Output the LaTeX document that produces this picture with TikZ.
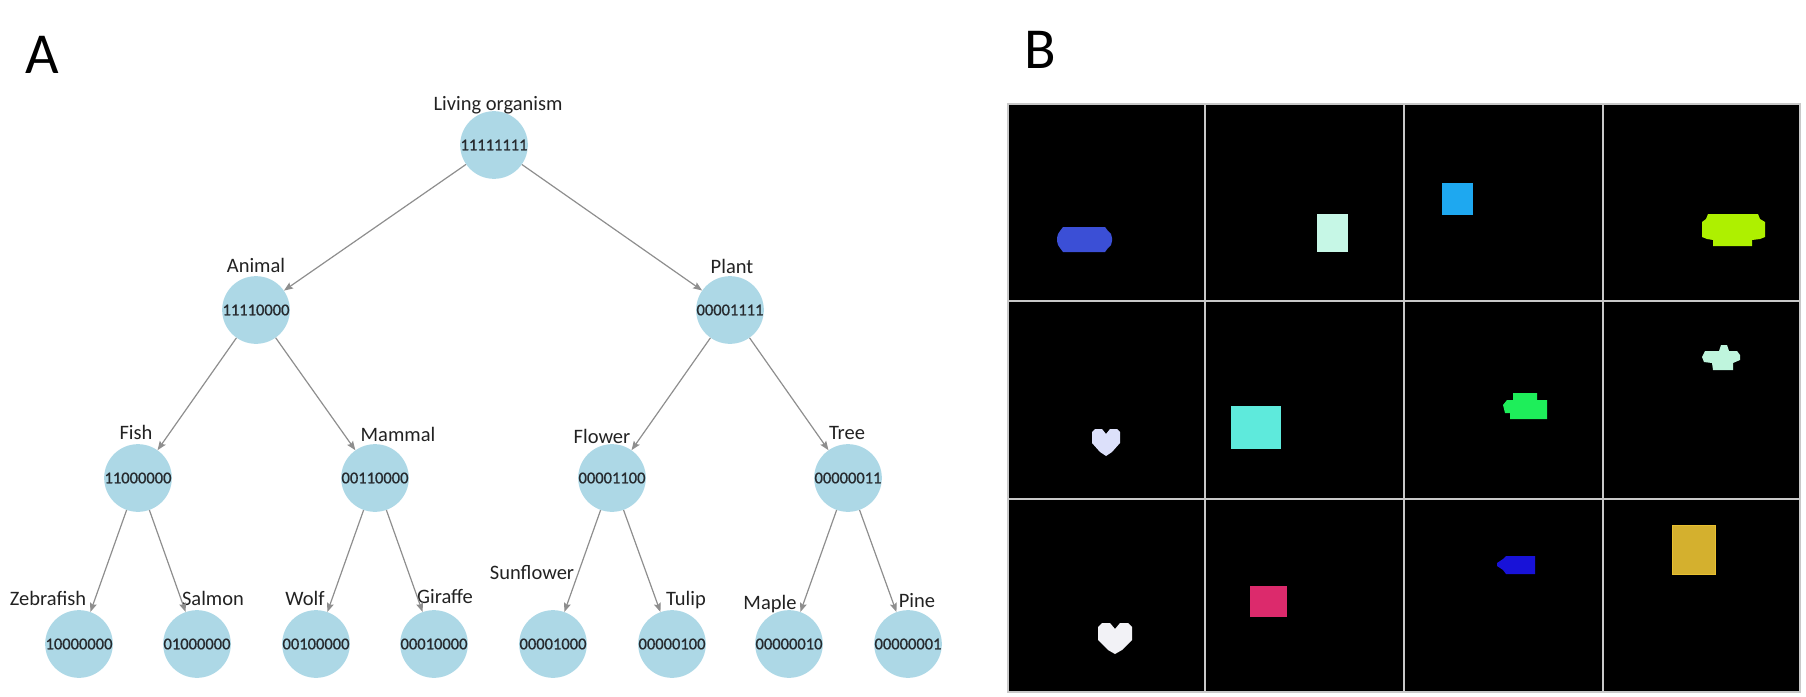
\documentclass[tikz,border=0pt]{standalone}
\usepackage{fontspec}
\setmainfont{Carlito}
\newfontfamily\numfont[FakeBold=0.9]{Carlito}
\usetikzlibrary{arrows.meta}
\definecolor{nodeblue}{HTML}{ADD8E6}
\definecolor{numtxt}{HTML}{262A2E}
\definecolor{lbltxt}{HTML}{222222}
\definecolor{edgegray}{HTML}{8E8E8E}
\definecolor{gridgray}{HTML}{C8C8C8}
\definecolor{shblue}{HTML}{3B4FD6}
\definecolor{shmint}{HTML}{C6F7E6}
\definecolor{shsky}{HTML}{1EA8F0}
\definecolor{shlime}{HTML}{AEF000}
\definecolor{shlav}{HTML}{DCE0FA}
\definecolor{shcyan}{HTML}{5EEADC}
\definecolor{shgreen}{HTML}{1EEE5A}
\definecolor{shmint2}{HTML}{BFF5DD}
\definecolor{shwhite}{HTML}{F2F2F6}
\definecolor{shpink}{HTML}{DC2A6C}
\definecolor{shnavy}{HTML}{1812D8}
\definecolor{shgold}{HTML}{D4B02E}
\definecolor{shgoldedge}{HTML}{E8C030}
\begin{document}
\begin{tikzpicture}[x=1pt,y=-1pt,
  orgnode/.style={circle, fill=nodeblue, minimum size=64pt, inner sep=0pt,
    font=\numfont\fontsize{16.5}{18}\selectfont, text=numtxt},
  lbl/.style={anchor=base, inner sep=0pt, font=\fontsize{20.5}{22}\selectfont, text=lbltxt},
  panel/.style={anchor=base, inner sep=0pt, font=\fontsize{58}{60}\selectfont, text=black},
  arr/.style={draw=edgegray, line width=1.2pt, -{Stealth[length=9pt,width=7pt,inset=1.5pt]}},
  tile/.style={draw=gridgray, line width=1.5pt},
]
\useasboundingbox (0,0) rectangle (1806,696);

% panel letters
\node[panel] (pA) at (42,73) {A};
\node[panel] (pB) at (1040,68) {B};

% tree nodes
\node[orgnode] (root) at (494,145) {11111111};
\node[orgnode] (animal) at (256,310) {11110000};
\node[orgnode] (plant) at (730,310) {00001111};
\node[orgnode] (fish) at (138,478) {11000000};
\node[orgnode] (mammal) at (375,478) {00110000};
\node[orgnode] (flower) at (612,478) {00001100};
\node[orgnode] (tree) at (848,478) {00000011};
\node[orgnode] (zebra) at (79,644) {10000000};
\node[orgnode] (salmon) at (197,644) {01000000};
\node[orgnode] (wolf) at (316,644) {00100000};
\node[orgnode] (giraffe) at (434,644) {00010000};
\node[orgnode] (sunfl) at (553,644) {00001000};
\node[orgnode] (tulip) at (672,644) {00000100};
\node[orgnode] (maple) at (789,644) {00000010};
\node[orgnode] (pine) at (908,644) {00000001};

% labels
\node[lbl] (l-root) at (498,110) {Living organism};
\node[lbl] (l-animal) at (256,272) {Animal};
\node[lbl] (l-plant) at (732,273) {Plant};
\node[lbl] (l-fish) at (136,439) {Fish};
\node[lbl] (l-mammal) at (398,441) {Mammal};
\node[lbl] (l-flower) at (602,443) {Flower};
\node[lbl] (l-tree) at (847,439) {Tree};
\node[lbl] (l-zebra) at (48,605) {Zebrafish};
\node[lbl] (l-salmon) at (213,605) {Salmon};
\node[lbl] (l-wolf) at (305,605) {Wolf};
\node[lbl] (l-giraffe) at (445,603) {Giraffe};
\node[lbl] (l-sunfl) at (532,579) {Sunflower};
\node[lbl] (l-tulip) at (686,605) {Tulip};
\node[lbl] (l-maple) at (770,609) {Maple};
\node[lbl] (l-pine) at (917,607) {Pine};

% connectors
\draw[arr] (root) -- (animal);
\draw[arr] (root) -- (plant);
\draw[arr] (animal) -- (fish);
\draw[arr] (animal) -- (mammal);
\draw[arr] (plant) -- (flower);
\draw[arr] (plant) -- (tree);
\draw[arr] (fish) -- (zebra);
\draw[arr] (fish) -- (salmon);
\draw[arr] (mammal) -- (wolf);
\draw[arr] (mammal) -- (giraffe);
\draw[arr] (flower) -- (sunfl);
\draw[arr] (flower) -- (tulip);
\draw[arr] (tree) -- (maple);
\draw[arr] (tree) -- (pine);

% panel B
\fill[black] (1008,104) rectangle (1800,692);
\draw[tile] (1008,104) rectangle (1800,692);
\draw[tile] (1205,104) -- (1205,692);
\draw[tile] (1404,104) -- (1404,692);
\draw[tile] (1603,104) -- (1603,692);
\draw[tile] (1008,301) -- (1800,301);
\draw[tile] (1008,499) -- (1800,499);

% row 1
\fill[shblue] (1063,227) -- (1105,227) -- (1108,231) -- (1111,234) -- (1112,238) -- (1112,241) -- (1111,245) -- (1108,248) -- (1105,252) -- (1063,252) -- (1060,248) -- (1058,245) -- (1057,241) -- (1057,238) -- (1058,234) -- (1060,231) -- cycle;
\fill[shmint] (1317,214) rectangle (1348,252);
\fill[shsky] (1442,183) rectangle (1473,215);
\fill[shlime] (1708,214) -- (1758,214) -- (1760,219) -- (1765,222) -- (1765,237) -- (1760,239) -- (1752,240) -- (1752,246) -- (1713,246) -- (1713,240) -- (1707,239) -- (1702,237) -- (1702,222) -- (1706,219) -- cycle;
% row 2
\fill[shlav] (1092,432) -- (1095,429) -- (1102,429) -- (1106,434) -- (1110,429) -- (1117,429) -- (1120,432) -- (1120,443) -- (1112,452) -- (1106,456) -- (1100,452) -- (1092,443) -- cycle;
\fill[shcyan] (1231,406) rectangle (1281,449);
\fill[shgreen] (1513,393) -- (1537,393) -- (1537,400) -- (1547,400) -- (1547,419) -- (1510,419) -- (1510,413) -- (1505,413) -- (1503,405) -- (1507,400) -- (1513,400) -- cycle;
\fill[shmint2] (1721,345) -- (1727,345) -- (1729,351) -- (1737,351) -- (1740,355) -- (1740,360) -- (1733,363) -- (1733,370) -- (1713,370) -- (1712,363) -- (1704,362) -- (1702,357) -- (1705,351) -- (1719,351) -- cycle;
% row 3
\fill[shwhite] (1098,627) -- (1102,623) -- (1110,623) -- (1115,629) -- (1120,623) -- (1128,623) -- (1132,627) -- (1132,640) -- (1122,650) -- (1115,654) -- (1108,650) -- (1098,640) -- cycle;
\fill[shpink] (1250,586) rectangle (1287,617);
\fill[shnavy] (1506,556) -- (1535,556) -- (1535,574) -- (1506,574) -- (1503,570) -- (1497,566) -- (1497,563) -- (1503,559) -- cycle;
\filldraw[fill=shgold, draw=shgoldedge, line width=1pt] (1672,525) rectangle (1715,574);
\end{tikzpicture}
\end{document}
